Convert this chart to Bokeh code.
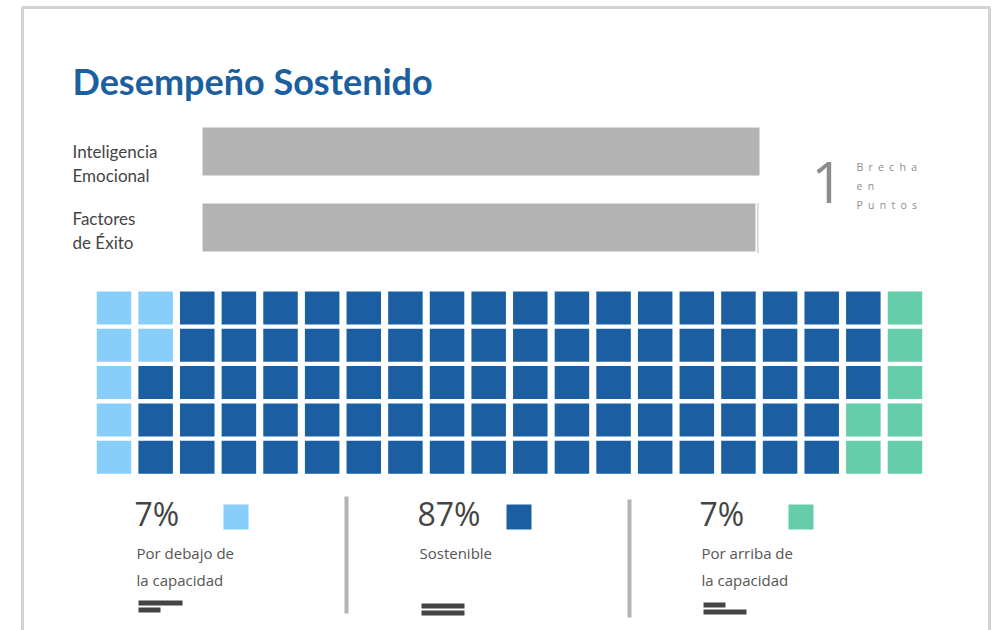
from bokeh.plotting import figure
from bokeh.models import Range1d
from bokeh.core.properties import value
from bokeh.embed import file_html
from bokeh.resources import INLINE

# ---------------- data ----------------
title = "Desempeño Sostenido"
bar_labels = [["Inteligencia", "Emocional"], ["Factores", "de Éxito"]]
bar_scores = [139, 138]
gap_value = 1
gap_words = ["B\u2002r\u2002e\u2002c\u2002h\u2002a", "e\u2002n", "P\u2002u\u2002n\u2002t\u2002o\u2002s"]

waffle_counts = [7, 86, 7]
legend_pcts = ["7%", "87%", "7%"]
legend_labels = [["Por debajo de", "la capacidad"], ["Sostenible"], ["Por arriba de", "la capacidad"]]
group_colors = ["#87cefa", "#1b5fa2", "#66cdaa"]
# icon bar lengths (top, bottom) in px - decorative
icon_lengths = [(44, 22), (43, 43), (22, 43)]

# ---------------- figure ----------------
W, H = 993, 630
p = figure(width=W, height=H, x_range=Range1d(0, W), y_range=Range1d(H, 0),
           output_backend="svg", toolbar_location=None, min_border=0,
           x_axis_location=None, y_axis_location=None)
p.grid.visible = False
p.outline_line_color = None
p.background_fill_color = "white"
p.border_fill_color = "white"

K = 0.40  # baseline compensation (fraction of font size)


def txt(xs, baselines, texts, size, font="Open Sans", color="#444444", style="normal"):
    p.text(x=xs, y=[b - K * size for b in baselines], text=texts, text_font=value(font),
           text_font_style=style, text_font_size=f"{size}px", text_color=color,
           text_baseline="alphabetic")


# card border
p.line(x=[22, 22, 989, 989], y=[640, 7, 7, 640], line_color="#d3d3d3", line_width=3)

# title
txt([72], [95], [title], 36, font="Lato", color="#1b5fa0", style="bold")

# ---------------- bars ----------------
bar_x0, bar_x1 = 202, 759
px_per = (bar_x1 - bar_x0) / bar_scores[0]
start = -bar_x0 / px_per
p.extra_x_ranges = {"bar": Range1d(start, start + W / px_per)}
bar_y = [151 + 76 * i for i in range(len(bar_scores))]
p.hbar(y=bar_y, left=0, right=bar_scores, height=48, fill_color="#b3b3b3",
       line_color=None, x_range_name="bar")
# dotted marker at end of second bar
p.segment(x0=[bar_scores[1] + 0.6], x1=[bar_scores[1] + 0.6], y0=[bar_y[1] - 24], y1=[bar_y[1] + 25],
          line_color="#8a8a8a", line_width=1.2, line_dash="1 1", x_range_name="bar")

label_base = [158, 225]
lx, ly, lt = [], [], []
for i, lines in enumerate(bar_labels):
    for j, t in enumerate(lines):
        lx.append(72); ly.append(label_base[i] + 24 * j); lt.append(t)
txt(lx, ly, lt, 17, font="Lato", color="#444444")

# gap
txt([811], [204], [str(gap_value)], 56, color="#8c8c8c")
txt([856] * 3, [171, 190, 209], gap_words, 10.5, color="#8c8c8c")

# ---------------- waffle ----------------
rows, cols = 5, 20
cx0, cy0, pitch_x, pitch_y = 113.5, 307.5, 41.63, 37.3
wx, wy, wc = [], [], []
idx = 0
for g, n in enumerate(waffle_counts):
    for k in range(n):
        c, r = divmod(idx, rows)
        wx.append(cx0 + c * pitch_x)
        wy.append(cy0 + r * pitch_y)
        wc.append(group_colors[g])
        idx += 1
p.rect(x=wx, y=wy, width=34.5, height=33, fill_color=wc, line_color=None)

# ---------------- legend ----------------
gx = [136, 419, 701]
txt([x - 2 for x in gx], [526] * 3, legend_pcts, 32, color="#444444")
p.rect(x=[x + 87 + 12.5 for x in gx], y=[516.5] * 3, width=25, height=25,
       fill_color=group_colors, line_color=None)
tx, ty, tt = [], [], []
for i, lines in enumerate(legend_labels):
    for j, t in enumerate(lines):
        tx.append(gx[i]); ty.append(558 + 27 * j); tt.append(t)
txt(tx, ty, tt, 15, color="#555555")

# icons
ix0, ix1, iy0, iy1 = [], [], [], []
icon_top = [600, 603, 602]
for i, (a, b) in enumerate(icon_lengths):
    x0 = gx[i] + 2
    ix0 += [x0, x0]; ix1 += [x0 + a, x0 + b]
    iy0 += [icon_top[i], icon_top[i] + 7]; iy1 += [icon_top[i] + 5, icon_top[i] + 12]
p.quad(left=ix0, right=ix1, top=iy0, bottom=iy1, fill_color="#444444", line_color=None)

# dividers
p.quad(left=[344, 627], right=[348, 631], top=[496, 499], bottom=[613, 617],
       fill_color="#b3b3b3", line_color=None)

open("out.html", "w").write(file_html(p, INLINE))
